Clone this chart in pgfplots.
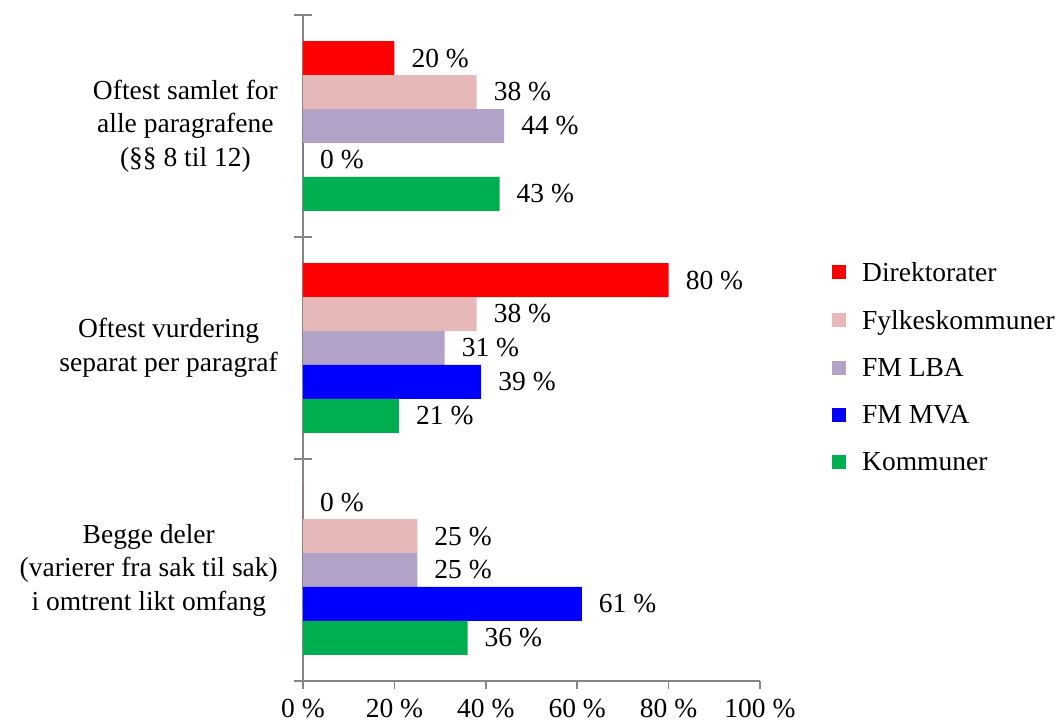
\documentclass[border=0pt]{standalone}
\usepackage{pgfplots}
\pgfplotsset{compat=1.18}
\usepackage{fontspec}
\setmainfont{Liberation Serif}
\definecolor{cDir}{HTML}{FF0000}
\definecolor{cFyl}{HTML}{E6B9B8}
\definecolor{cLBA}{HTML}{B3A2C7}
\definecolor{cMVA}{HTML}{0000FF}
\definecolor{cKom}{HTML}{00B050}
\definecolor{axgray}{HTML}{868686}
\begin{document}
\begin{tikzpicture}[x=1pt,y=1pt,font=\fontsize{27.5}{33.5}\selectfont]
\path[use as bounding box] (0,0) rectangle (1062,724);
\begin{axis}[
  at={(303pt,43pt)}, anchor=south west,
  scale only axis, width=457pt, height=666pt,
  xbar, bar width=0.153,
  xmin=0, xmax=100, ymin=-0.5, ymax=2.5,
  axis x line*=bottom, axis y line*=left,
  axis line style={axgray, line width=1.5pt},
  xtick={0,20,40,60,80,100},
  xticklabels={0 \%,20 \%,40 \%,60 \%,80 \%,100 \%},
  xtick align=outside,
  major tick length=8pt,
  xtick style={axgray, line width=1.5pt},
  xticklabel style={yshift=-8pt, inner sep=2pt},
  ytick={0,1,2},
  yticklabels={{Begge deler\\(varierer fra sak til sak)\\i omtrent likt omfang},
               {Oftest vurdering\\separat per paragraf},
               {Oftest samlet for\\alle paragrafene\\(§§ 8 til 12)}},
  ytick style={draw=none},
  minor ytick={-0.5,0.5,1.5,2.5},
  minor y tick style={draw=axgray, line width=1.5pt},
  minor tick length=17pt,
  ytick align=center,
  yticklabel style={align=center, inner sep=0pt, xshift=-21pt},
  nodes near coords={\pgfmathprintnumber[assume math mode=true,fixed,precision=0]{\pgfplotspointmeta}~\%},
  every node near coord/.append style={anchor=west, inner sep=0pt, xshift=17pt, black},
  legend style={at={(1.1575,0.629)}, anchor=north west, draw=none, inner sep=0pt,
                row sep=29pt, font=\fontsize{27.5}{33.5}\selectfont,
                nodes={inner sep=0pt, text depth=0pt}},
  legend cell align=left,
  legend image code/.code={\fill[#1] (0pt,-7pt) rectangle (14pt,7pt); \path (30pt,0pt);},
  clip=false,
]
\addplot[fill=cDir, draw=none, bar shift=0.306] coordinates {(20,2) (80,1) (0,0)};
\addlegendentry{Direktorater}
\addplot[fill=cFyl, draw=none, bar shift=0.153] coordinates {(38,2) (38,1) (25,0)};
\addlegendentry{Fylkeskommuner}
\addplot[fill=cLBA, draw=none, bar shift=0] coordinates {(44,2) (31,1) (25,0)};
\addlegendentry{FM LBA}
\addplot[fill=cMVA, draw=none, bar shift=-0.153] coordinates {(0,2) (39,1) (61,0)};
\addlegendentry{FM MVA}
\addplot[fill=cKom, draw=none, bar shift=-0.306] coordinates {(43,2) (21,1) (36,0)};
\addlegendentry{Kommuner}
\end{axis}
\end{tikzpicture}
\end{document}
